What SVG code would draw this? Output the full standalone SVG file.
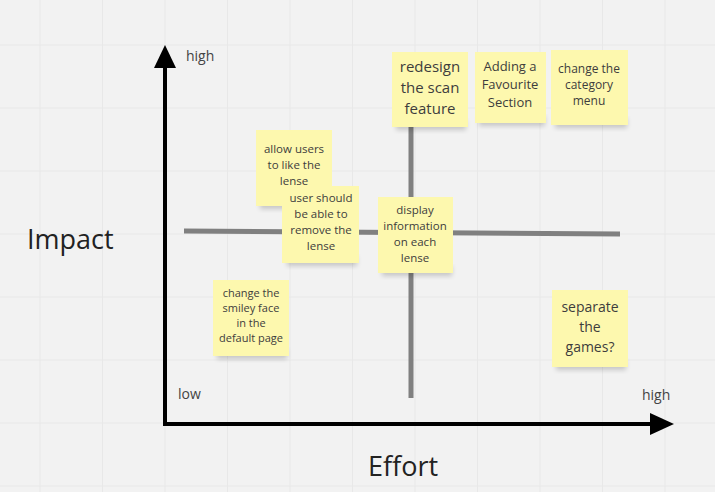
<svg xmlns="http://www.w3.org/2000/svg" width="715" height="492" viewBox="0 0 715 492">
<defs>
<style>
.t{font-family:"Open Sans","Liberation Sans",sans-serif;fill:#3d3d3d;text-anchor:middle}
.note{fill:#fdf8ae}
.shadow{fill:#000;opacity:0.18}
.ax{stroke:#000;stroke-width:4;fill:none}
.q{stroke:#808080;stroke-width:5;fill:none}
.grid{stroke:#e8e8e8;stroke-width:1}
.lbl{font-family:"Open Sans","Liberation Sans",sans-serif;fill:#444}
</style>
<filter id="blur" x="-20%" y="-20%" width="140%" height="160%"><feGaussianBlur stdDeviation="2.5"/></filter>
</defs>
<rect width="715" height="492" fill="#f2f2f2"/>
<g id="grid">
<path class="grid" d="M40 0V492M102.5 0V492M165 0V492M227.5 0V492M290 0V492M352.5 0V492M415 0V492M477.5 0V492M540 0V492M602.5 0V492M665 0V492M0 45H715M0 108H715M0 171H715M0 234H715M0 297H715M0 360H715M0 423H715M0 486H715"/>
</g>
<g id="connectors">
<line class="q" x1="184" y1="231" x2="620" y2="234"/>
<line class="q" x1="411" y1="125" x2="411" y2="398"/>
<path class="ax" d="M165 424V62"/>
<polygon points="165,45 154,68 176,68" fill="#000"/>
<path class="ax" d="M163 424H652"/>
<polygon points="674,424 650,413 650,435" fill="#000"/>
</g>
<g id="labels">
<text class="lbl" x="186" y="61" font-size="14">high</text>
<text class="lbl" x="178" y="399" font-size="14">low</text>
<text class="lbl" x="642" y="400" font-size="14">high</text>
<text x="27" y="249" font-size="27" font-family="Open Sans,Liberation Sans,sans-serif" fill="#222">Impact</text>
<text x="368" y="476" font-size="27" font-family="Open Sans,Liberation Sans,sans-serif" fill="#222">Effort</text>
</g>
<g id="n1">
<rect class="shadow" x="396" y="120" width="70" height="10" filter="url(#blur)"/>
<rect class="note" x="392" y="52" width="76" height="75"/>
<text class="t" font-size="15"><tspan x="430" y="72">redesign</tspan><tspan x="430" y="93">the scan</tspan><tspan x="430" y="114">feature</tspan></text>
</g>
<g id="n2">
<rect class="shadow" x="479" y="116" width="66" height="10" filter="url(#blur)"/>
<rect class="note" x="475" y="52" width="71" height="71"/>
<text class="t" font-size="13"><tspan x="510" y="71">Adding a</tspan><tspan x="510" y="89">Favourite</tspan><tspan x="510" y="107">Section</tspan></text>
</g>
<g id="n3">
<rect class="shadow" x="555" y="118" width="72" height="10" filter="url(#blur)"/>
<rect class="note" x="551" y="50" width="77" height="75"/>
<text class="t" font-size="12"><tspan x="589" y="73">change the</tspan><tspan x="589" y="89">category</tspan><tspan x="589" y="105">menu</tspan></text>
</g>
<g id="n4">
<rect class="shadow" x="260" y="199" width="70" height="10" filter="url(#blur)"/>
<rect class="note" x="256" y="130" width="76" height="76"/>
<text class="t" font-size="11.5"><tspan x="294" y="153">allow users</tspan><tspan x="294" y="169">to like the</tspan><tspan x="294" y="185">lense</tspan></text>
</g>
<g id="n5">
<rect class="shadow" x="287" y="256" width="70" height="10" filter="url(#blur)"/>
<rect class="note" x="282" y="186" width="77" height="77"/>
<text class="t" font-size="11.5"><tspan x="321" y="202">user should</tspan><tspan x="321" y="218">be able to</tspan><tspan x="321" y="234">remove the</tspan><tspan x="321" y="250">lense</tspan></text>
</g>
<g id="n6">
<rect class="shadow" x="382" y="266" width="70" height="10" filter="url(#blur)"/>
<rect class="note" x="378" y="197" width="75" height="76"/>
<text class="t" font-size="11.5"><tspan x="415" y="214">display</tspan><tspan x="415" y="230">information</tspan><tspan x="415" y="246">on each</tspan><tspan x="415" y="262">lense</tspan></text>
</g>
<g id="n7">
<rect class="shadow" x="217" y="349" width="70" height="10" filter="url(#blur)"/>
<rect class="note" x="213" y="280" width="76" height="76"/>
<text class="t" font-size="11"><tspan x="251" y="297">change the</tspan><tspan x="251" y="312">smiley face</tspan><tspan x="251" y="327">in the</tspan><tspan x="251" y="342">default page</tspan></text>
</g>
<g id="n8">
<rect class="shadow" x="556" y="360" width="70" height="10" filter="url(#blur)"/>
<rect class="note" x="552" y="290" width="76" height="77"/>
<text class="t" font-size="14"><tspan x="590" y="312">separate</tspan><tspan x="590" y="332">the</tspan><tspan x="590" y="352">games?</tspan></text>
</g>
</svg>
